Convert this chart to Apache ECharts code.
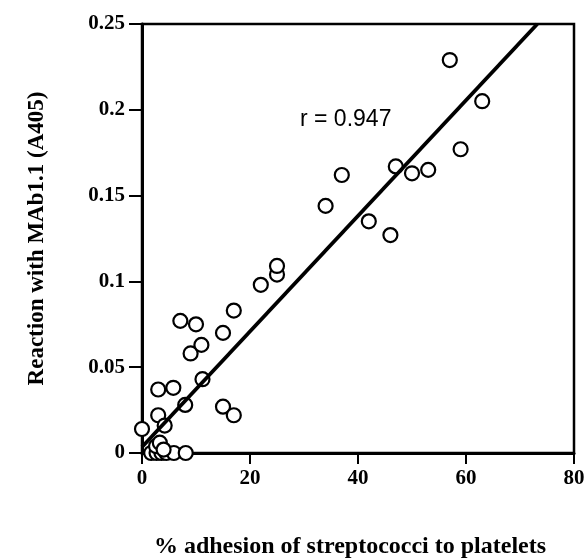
<!DOCTYPE html>
<html>
<head>
<meta charset="utf-8">
<script src="https://cdn.jsdelivr.net/npm/echarts@6/dist/echarts.min.js"></script>
<style>html,body{margin:0;padding:0;background:#fff;}#c{width:584px;height:559px;}</style>
</head>
<body>
<div id="c"></div>
<script>
// % adhesion of streptococci to platelets
const adhesion = [0, 3, 3, 5.8, 7.1, 10, 8, 9, 11, 11.2, 15, 15, 17, 17, 22, 25, 25, 34, 37, 42, 46, 47, 50, 53, 57, 59, 63, 4.2, 1.7, 2.7, 3.6, 4.5, 5.9, 8.1, 2.6, 3.3, 4.0];
// Reaction with MAb1.1 (A405)
const reaction = [0.014, 0.022, 0.037, 0.038, 0.077, 0.075, 0.028, 0.058, 0.063, 0.043, 0.070, 0.027, 0.022, 0.083, 0.098, 0.104, 0.109, 0.144, 0.162, 0.135, 0.127, 0.167, 0.163, 0.165, 0.229, 0.177, 0.205, 0.016, 0, 0, 0, 0, 0, 0, 0.004, 0.006, 0.002];
// regression line endpoints
const fitX = [0, 73.2];
const fitY = [0.0035, 0.25];
const xTicks = [0, 20, 40, 60, 80];
const yTicks = [0, 0.05, 0.1, 0.15, 0.2, 0.25];
const rLabel = 'r = 0.947';

const chart = echarts.init(document.getElementById('c'));
const serif = '"Liberation Serif", "Times New Roman", serif';
chart.setOption({
  animation: false,
  grid: { left: 142, right: 10, top: 24, bottom: 106, show: true, borderColor: '#000', borderWidth: 2.5, outerBoundsMode: 'none' },
  xAxis: {
    type: 'value', min: xTicks[0], max: xTicks[xTicks.length - 1], interval: 20,
    name: '% adhesion of streptococci to platelets', nameLocation: 'middle', nameGap: 82,
    nameTextStyle: { fontFamily: serif, fontWeight: 'bold', fontSize: 24, color: '#000', padding: [0, 16, 0, 0] },
    axisLine: { lineStyle: { color: '#000', width: 3 } },
    axisTick: { show: true, length: 11, lineStyle: { color: '#000', width: 2 } },
    axisLabel: { fontFamily: serif, fontWeight: 'bold', fontSize: 21, color: '#000', margin: 15 },
    splitLine: { show: false }
  },
  yAxis: {
    type: 'value', min: yTicks[0], max: yTicks[yTicks.length - 1], interval: 0.05,
    name: 'Reaction with MAb1.1 (A405)', nameLocation: 'middle', nameGap: 93,
    nameTextStyle: { fontFamily: serif, fontWeight: 'bold', fontSize: 23, color: '#000' },
    axisLine: { lineStyle: { color: '#000', width: 3 } },
    axisTick: { show: true, length: 13, lineStyle: { color: '#000', width: 2 } },
    axisLabel: { fontFamily: serif, fontWeight: 'bold', fontSize: 21, color: '#000', margin: 17 },
    splitLine: { show: false }
  },
  graphic: [{
    type: 'text', left: 300, top: 108,
    style: { text: rLabel, font: '23px "Liberation Sans", Arial, sans-serif', fill: '#000' }
  }],
  series: [{
    type: 'scatter', z: 3,
    data: adhesion.map((x, i) => [x, reaction[i]]),
    symbol: 'circle', symbolSize: 14,
    itemStyle: { color: '#fff', borderColor: '#000', borderWidth: 2.2, opacity: 1 }
  }, {
    type: 'line', z: 4,
    data: fitX.map((x, i) => [x, fitY[i]]),
    symbol: 'none',
    lineStyle: { color: '#000', width: 3.8 }
  }]
});
</script>
</body>
</html>
